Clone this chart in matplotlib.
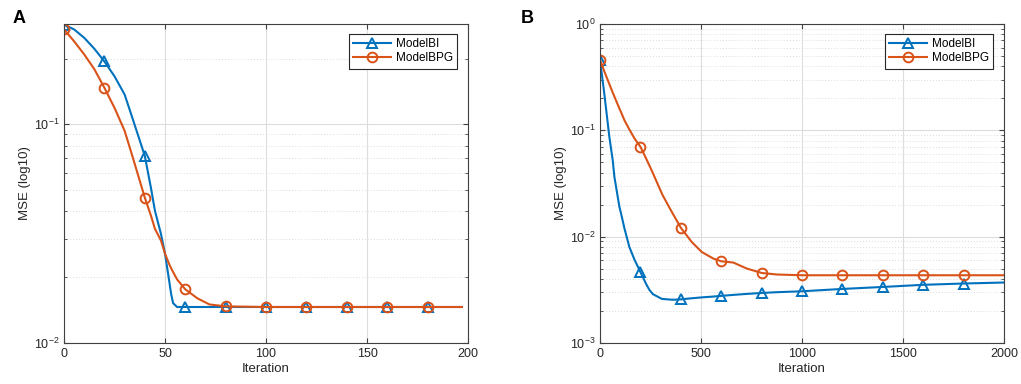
import matplotlib.pyplot as plt
from matplotlib.ticker import LogLocator, NullFormatter

plt.rcParams['font.family'] = ['Liberation Sans', 'DejaVu Sans']
plt.rcParams['mathtext.fontset'] = 'custom'
plt.rcParams['mathtext.rm'] = 'Liberation Sans'

# Panel A: MSE vs iteration
iter_a = [0, 5, 10, 15, 20, 25, 30, 34, 40, 43, 45, 48, 50, 52, 53, 54, 56, 60, 66, 72, 80,
          100, 120, 140, 160, 180, 197]
bi_a = [0.286, 0.272, 0.249, 0.222, 0.194, 0.166, 0.137, 0.106, 0.0717, 0.0514, 0.0403, 0.0315,
        0.0256, 0.0194, 0.0168, 0.0152, 0.0146, 0.0146, 0.0146, 0.0146, 0.0146,
        0.0146, 0.0146, 0.0146, 0.0146, 0.0146, 0.0146]
bpg_a = [0.272, 0.240, 0.209, 0.179, 0.147, 0.119, 0.0935, 0.0708, 0.0462, 0.0383, 0.0333, 0.0294,
         0.0256, 0.0230, 0.0220, 0.0211, 0.0195, 0.0176, 0.0160, 0.0150, 0.0147,
         0.0146, 0.0146, 0.0146, 0.0146, 0.0146, 0.0146]
marks_a = [0, 20, 40, 60, 80, 100, 120, 140, 160, 180]

# Panel B
iter_b = [0, 21, 46, 63, 71, 96, 104, 121, 145, 170, 200, 228, 244, 261, 305, 310, 355, 368, 400,
          454, 503, 561, 600, 660, 726, 800, 875, 1000, 1200, 1400, 1600, 1800, 2000]
bi_b = [0.458, 0.222, 0.0869, 0.052, 0.0365, 0.0190, 0.0165, 0.0119, 0.0080, 0.0061, 0.00464,
        0.00359, 0.00316, 0.00288, 0.0026, 0.00259, 0.00255, 0.00255, 0.00257,
        0.00263, 0.00268, 0.00273, 0.00277, 0.00283, 0.00289, 0.00295, 0.00300, 0.00306,
        0.00322, 0.00336, 0.00352, 0.00362, 0.00370]
bpg_b = [0.458, 0.359, 0.272, 0.226, 0.208, 0.160, 0.148, 0.124, 0.102, 0.0841, 0.070, 0.0543,
         0.0468, 0.0398, 0.0257, 0.0245, 0.0171, 0.0155, 0.0121,
         0.0089, 0.00718, 0.00621, 0.00586, 0.00570, 0.00501, 0.00455, 0.00440, 0.00433,
         0.00433, 0.00433, 0.00433, 0.00433, 0.00433]
marks_b = [0, 200, 400, 600, 800, 1000, 1200, 1400, 1600, 1800]

blue = '#0072BD'
orange = '#D95319'

fig = plt.figure(figsize=(10.21, 3.84), dpi=100)
ax_a = fig.add_axes([0.0627, 0.107, 0.3957, 0.8305])
ax_b = fig.add_axes([0.5877, 0.107, 0.3957, 0.8305])


def style(ax, xlim, ylim, xticks):
    ax.set_yscale('log')
    ax.set_xlim(*xlim)
    ax.set_ylim(*ylim)
    ax.set_xticks(xticks)
    ax.yaxis.set_major_locator(LogLocator(base=10, numticks=10))
    ax.yaxis.set_minor_locator(LogLocator(base=10, subs=range(2, 10), numticks=10))
    ax.yaxis.set_minor_formatter(NullFormatter())
    ax.grid(True, which='major', color='#dcdcdc', lw=0.8)
    ax.grid(True, which='minor', axis='y', color='#dcdcdc', lw=0.7, ls=(0, (1, 2)))
    ax.tick_params(which='both', direction='in', top=True, right=True, labelsize=9,
                   color='#404040', labelcolor='#262626')
    ax.tick_params(which='major', length=3.5)
    ax.tick_params(which='minor', length=2)
    for s in ax.spines.values():
        s.set_color('#404040')
        s.set_linewidth(0.8)
    ax.set_xlabel('Iteration', fontsize=9.5, color='#262626', labelpad=2)
    ax.set_ylabel('MSE (log10)', fontsize=9.5, color='#262626', labelpad=2)
    ax.set_axisbelow(True)


def draw(ax, x, ybi, ybpg, marks):
    idx = [x.index(m) for m in marks]
    ax.plot(x, ybi, color=blue, lw=1.5, marker='^', ms=7, mfc='none', mew=1.4,
            markevery=idx, label='ModelBI')
    ax.plot(x, ybpg, color=orange, lw=1.5, marker='o', ms=7, mfc='none', mew=1.4,
            markevery=idx, label='ModelBPG')
    leg = ax.legend(loc='upper right', fontsize=8.5, fancybox=False, edgecolor='#262626',
                    framealpha=1, borderpad=0.35, handlelength=3.2, handletextpad=0.4,
                    labelspacing=0.2, borderaxespad=0, bbox_to_anchor=(0.973, 0.969))
    leg.get_frame().set_linewidth(0.8)


draw(ax_a, iter_a, bi_a, bpg_a, marks_a)
style(ax_a, (0, 200), (0.01, 0.288), [0, 50, 100, 150, 200])
draw(ax_b, iter_b, bi_b, bpg_b, marks_b)
style(ax_b, (0, 2000), (0.001, 1), [0, 500, 1000, 1500, 2000])

fig.text(0.012, 0.975, 'A', fontsize=13, fontweight='bold', va='top')
fig.text(0.510, 0.975, 'B', fontsize=13, fontweight='bold', va='top')

fig.savefig('out.png', dpi=100)
